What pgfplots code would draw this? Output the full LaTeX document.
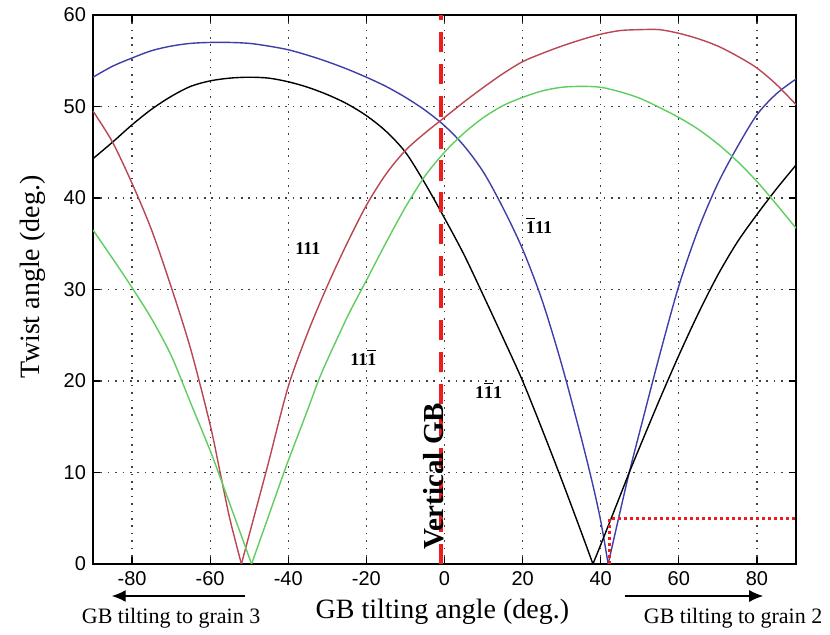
\documentclass[border=0pt]{standalone}
\usepackage{pgfplots}
\pgfplotsset{compat=1.18}
\usepackage{fontspec}
\setmainfont{Liberation Serif}
\setsansfont{Liberation Sans}
\usetikzlibrary{arrows.meta}
\definecolor{cB}{RGB}{62,62,168}
\definecolor{cR}{RGB}{185,70,80}
\definecolor{cG}{RGB}{95,205,95}
\definecolor{cV}{RGB}{235,30,30}
\newcommand{\ob}[1]{$\overline{\mbox{#1}}$}

\begin{document}
\begin{tikzpicture}
\useasboundingbox (-46.5pt,-35.5pt) rectangle (368.5pt,282pt);
\begin{axis}[at={(0,0)},anchor=south west,scale only axis,width=351.5pt,height=274.5pt,
 xmin=-90,xmax=90,ymin=0,ymax=60,clip mode=individual,
 xtick={-80,-60,...,80},ytick={0,10,...,60},
 tick align=inside,major tick length=3.5pt,tick style={black,line width=0.6pt},
 axis line style={black,line width=0.75pt},
 grid=major,major grid style={black!75,line width=0.6pt,dash pattern=on 0.8pt off 2.9pt},
 ticklabel style={font=\sffamily\fontsize{10}{12}\selectfont},
 /pgf/number format/assume math mode=true,
 xlabel={GB tilting angle (deg.)},ylabel={Twist angle (deg.)},
 label style={font=\fontsize{14}{16}\selectfont},
 xlabel style={at={(axis description cs:0.497,0)},anchor=center,yshift=-24pt},
 ylabel style={at={(axis description cs:-0.085,0.523)},anchor=center},
 every axis plot/.append style={line width=0.7pt,mark=none,smooth,tension=0.5}]
% [111] blue, split at its zero
\addplot[cB] coordinates {(-90,53.2)(-85,54.4)(-80,55.3)(-75,56.1)(-70,56.6)(-65,56.9)(-60,57.0)(-55,57.0)(-50,56.9)(-45,56.6)(-40,56.2)(-35,55.6)(-30,54.9)(-25,54.1)(-20,53.2)(-15,52.2)(-10,51.0)(-5,49.6)(0,47.9)(5,45.7)(10,42.8)(15,38.9)(20,34.4)(25,28.8)(30,21.8)(35,13.8)(38,8.6)(40,4.7)(41.9,0)};
\addplot[cB] coordinates {(41.9,0)(45,5.8)(47.3,10)(50,14.5)(55,22.7)(60,30.4)(65,36.6)(70,41.6)(75,45.6)(80,49.1)(85,51.4)(90,53.0)};
% black
\addplot[black] coordinates {(-90,44.3)(-85,46.1)(-80,48.0)(-75,49.7)(-70,51.1)(-65,52.2)(-60,52.8)(-55,53.1)(-50,53.2)(-45,53.1)(-40,52.7)(-35,52.1)(-30,51.3)(-25,50.3)(-20,49.0)(-15,47.3)(-10,45.0)(-5,41.6)(0,37.8)(5,33.8)(10,29.3)(15,24.7)(20,20.0)(25,14.7)(30,9.2)(35,3.5)(38,0)};
\addplot[black] coordinates {(38,0)(40,2.1)(45,7.5)(47.3,10)(50,12.8)(55,17.9)(60,22.8)(65,27.4)(70,31.6)(75,35.2)(80,38.2)(85,41.0)(90,43.6)};
% red
\addplot[cR] coordinates {(-90,49.5)(-85,46.1)(-80,41.6)(-75,36.5)(-70,30.3)(-65,23.5)(-60,15.2)(-57.4,9.9)(-55,5.0)(-52,0)};
\addplot[cR] coordinates {(-52,0)(-50,3.2)(-45.8,9.9)(-45,11.2)(-40,19.4)(-35,25.3)(-30,30.4)(-25,35.0)(-20,39.2)(-15,42.6)(-10,45.2)(-5,47.1)(0,48.8)(5,50.5)(10,52.1)(15,53.6)(20,54.9)(25,55.8)(30,56.6)(35,57.3)(40,57.9)(45,58.3)(50,58.4)(55,58.4)(60,58.0)(65,57.4)(70,56.6)(75,55.5)(80,54.2)(85,52.4)(90,50.2)};
% green
\addplot[cG] coordinates {(-90,36.5)(-85,33.4)(-80,30.2)(-75,26.8)(-70,22.8)(-65,17.6)(-60,12.4)(-57.9,10.0)(-55,6.6)(-49.4,0)};
\addplot[cG] coordinates {(-49.4,0)(-45,5.3)(-41.2,9.9)(-40,11.3)(-35,16.9)(-32.4,19.9)(-30,22.3)(-25,26.9)(-22.6,28.9)(-20,31.0)(-15,35.1)(-10,39.0)(-5,42.4)(0,45.0)(5,47.1)(10,48.8)(15,50.1)(20,51.0)(25,51.7)(30,52.1)(35,52.2)(40,52.1)(45,51.6)(50,50.9)(55,49.9)(60,48.8)(65,47.5)(70,45.9)(75,44.0)(80,41.8)(85,39.3)(90,36.7)};
% vertical GB and the 5 degree limit
\addplot[cV,line width=2pt,dash pattern=on 10pt off 6pt,smooth=false] coordinates {(-1,0)(-1,60)};
\addplot[cV,line width=1.5pt,dash pattern=on 1.5pt off 1.5pt,sharp plot] coordinates {(42.2,0)(42.2,5)(90,5)};
\node[rotate=90,font=\bfseries\fontsize{14.5}{16}\selectfont] at (axis cs:-2.8,9.6) {Vertical GB};
\node[font=\bfseries\fontsize{9}{10}\selectfont] at (axis cs:-35,34.5) {111};
\node[font=\bfseries\fontsize{9}{10}\selectfont] at (axis cs:-20.8,22.6) {11\ob{1}};
\node[font=\bfseries\fontsize{9}{10}\selectfont] at (axis cs:24.2,37) {\ob{1}11};
\node[font=\bfseries\fontsize{9}{10}\selectfont] at (axis cs:11.3,19) {1\ob{1}1};
% tilting direction
\draw[-{Latex[length=7pt,width=6pt]},line width=0.7pt] (axis cs:-51,-3.5) -- (axis cs:-85.2,-3.5);
\draw[-{Latex[length=7pt,width=6pt]},line width=0.7pt] (axis cs:46.1,-3.5) -- (axis cs:81.6,-3.5);
\node[font=\fontsize{11}{13}\selectfont] at (axis cs:-70,-5.9) {GB tilting to grain 3};
\node[font=\fontsize{11}{13}\selectfont] at (axis cs:73.9,-5.9) {GB tilting to grain 2};
\end{axis}
\end{tikzpicture}
\end{document}
